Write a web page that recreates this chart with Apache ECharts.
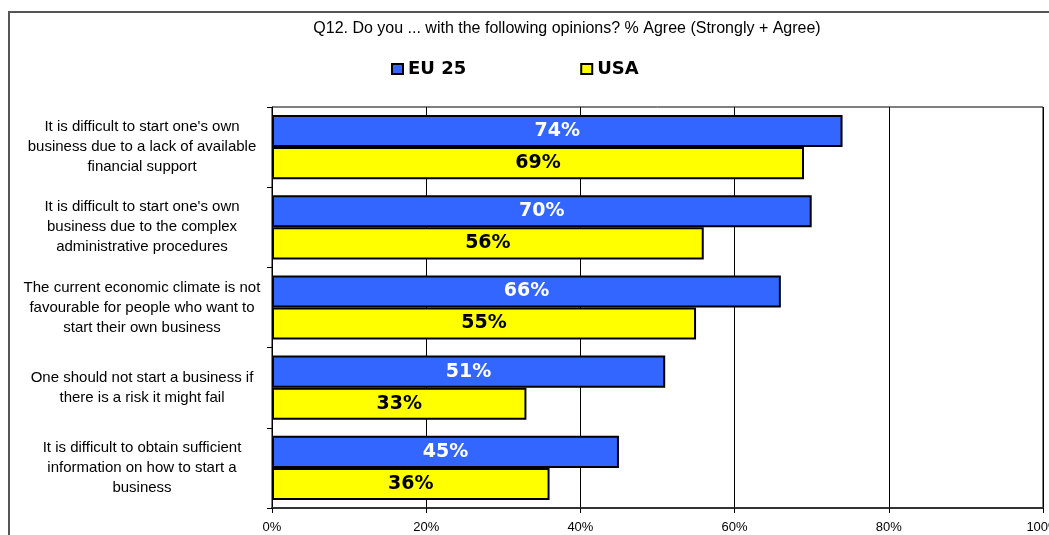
<!DOCTYPE html>
<html>
<head>
<meta charset="utf-8">
<script src="https://cdn.jsdelivr.net/npm/echarts@6/dist/echarts.min.js"></script>
<style>
  html, body { margin: 0; padding: 0; background: #fff; }
  #chart { width: 1049px; height: 535px; }
</style>
</head>
<body>
<div id="chart"></div>
<script>
// Survey statements, top to bottom
const categories = [
  "It is difficult to start one's own\nbusiness due to a lack of available\nfinancial support",
  "It is difficult to start one's own\nbusiness due to the complex\nadministrative procedures",
  "The current economic climate is not\nfavourable for people who want to\nstart their own business",
  "One should not start a business if\nthere is a risk it might fail",
  "It is difficult to obtain sufficient\ninformation on how to start a\nbusiness"
];
// % Agree (Strongly + Agree)
const eu25 = [74, 70, 66, 51, 45];
const usa = [69, 56, 55, 33, 36];
const seriesNames = ["EU 25", "USA"];
const titleText = "Q12. Do you ... with the following opinions? % Agree (Strongly + Agree)";

const chart = echarts.init(document.getElementById('chart'), null, { renderer: 'canvas' });

const labelFont = { fontFamily: 'DejaVu Sans', fontWeight: 'bold', fontSize: 19 };

chart.setOption({
  animation: false,
  backgroundColor: '#fff',
  title: {
    text: titleText,
    left: 562,
    textAlign: 'center',
    top: 16,
    textStyle: { fontFamily: 'Liberation Sans', fontWeight: 'normal', fontSize: 16, color: '#000' }
  },
  legend: {
    left: 386,
    top: 55,
    itemWidth: 11,
    itemHeight: 10,
    itemGap: 114,
    icon: 'rect',
    textStyle: { fontFamily: 'DejaVu Sans', fontWeight: 'bold', fontSize: 18, color: '#000', padding: [0, 0, 0, 0] },
    data: seriesNames
  },
  grid: {
    left: 272,
    right: 6,
    top: 107,
    bottom: 27,
    show: true,
    borderColor: '#000',
    borderWidth: 1,
    containLabel: false,
    outerBoundsMode: 'none'
  },
  xAxis: {
    type: 'value',
    min: 0,
    max: 100,
    interval: 20,
    axisLine: { show: true, lineStyle: { color: '#333', width: 2 } },
    axisTick: { show: true, length: 5, lineStyle: { color: '#000' } },
    splitLine: { show: true, lineStyle: { color: '#000', width: 1 } },
    axisLabel: {
      formatter: '{value}%',
      margin: 13,
      fontFamily: 'Liberation Sans',
      fontSize: 13,
      color: '#000',
      hideOverlap: false
    }
  },
  yAxis: {
    type: 'category',
    inverse: true,
    data: categories,
    axisLine: { show: true, lineStyle: { color: '#000', width: 1 } },
    axisTick: { show: true, length: 5, lineStyle: { color: '#000' } },
    axisLabel: {
      align: 'center',
      margin: 130,
      fontFamily: 'Liberation Sans',
      fontSize: 15,
      lineHeight: 20,
      color: '#000'
    }
  },
  series: [
    {
      name: seriesNames[0],
      type: 'bar',
      data: eu25,
      barGap: '0%',
      barCategoryGap: '20%',
      itemStyle: { color: '#3366FF', borderColor: '#000', borderWidth: 2 },
      label: {
        show: true,
        position: 'inside',
        formatter: '{c}%',
        color: '#fff',
        ...labelFont
      }
    },
    {
      name: seriesNames[1],
      type: 'bar',
      data: usa,
      barGap: '0%',
      barCategoryGap: '20%',
      itemStyle: { color: '#FFFF00', borderColor: '#000', borderWidth: 2 },
      label: {
        show: true,
        position: 'inside',
        formatter: '{c}%',
        color: '#000',
        ...labelFont
      }
    }
  ],
  graphic: [
    {
      type: 'polyline',
      silent: true,
      shape: { points: [[9, 560], [9, 12], [1070, 12]] },
      style: { stroke: '#555', lineWidth: 2, fill: null }
    }
  ]
});
</script>
</body>
</html>
